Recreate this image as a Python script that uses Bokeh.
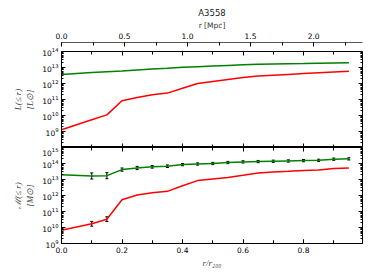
import numpy as np
from bokeh.plotting import figure
from bokeh.layouts import column
from bokeh.models import (Range1d, LinearAxis, LogAxis, FixedTicker, SingleIntervalTicker,
                          Whisker, TeeHead, ColumnDataSource, NumeralTickFormatter)
from bokeh.embed import file_html
from bokeh.resources import INLINE

# ---- data ----
r_over_r200 = [0.0, 0.1, 0.15, 0.2, 0.25, 0.3, 0.35, 0.4, 0.45, 0.5,
               0.55, 0.6, 0.65, 0.7, 0.75, 0.8, 0.85, 0.9, 0.95]
# log10 of cumulative luminosity [Lsun]
lum_total_log = [12.56, 12.68, 12.73, 12.78, 12.84, 12.90, 12.95, 13.01, 13.05, 13.09,
                 13.13, 13.17, 13.20, 13.22, 13.24, 13.25, 13.27, 13.28, 13.29]
lum_gal_log = [9.11, 9.73, 10.04, 10.92, 11.12, 11.29, 11.40, 11.70, 12.00, 12.13,
               12.25, 12.37, 12.47, 12.52, 12.57, 12.62, 12.67, 12.72, 12.77]
# log10 of cumulative mass [Msun]
mass_total_log = [13.30, 13.22, 13.24, 13.62, 13.72, 13.79, 13.83, 13.93, 13.97, 14.00,
                  14.06, 14.10, 14.12, 14.14, 14.16, 14.18, 14.20, 14.27, 14.29]
mass_gal_log = [9.83, 10.23, 10.52, 11.73, 12.03, 12.17, 12.26, 12.61, 12.93, 13.03,
                13.13, 13.26, 13.41, 13.47, 13.51, 13.57, 13.60, 13.68, 13.72]
# symmetric errors in dex (0 = no bar)
mass_total_err = [0.0, 0.19, 0.19, 0.10, 0.10, 0.08, 0.08, 0.07, 0.07, 0.07,
                  0.07, 0.07, 0.07, 0.07, 0.07, 0.07, 0.07, 0.07, 0.07]
mass_gal_err = [0.0, 0.15, 0.15, 0.0, 0.0, 0.0, 0.0, 0.0, 0.0, 0.0,
                0.0, 0.0, 0.0, 0.0, 0.0, 0.0, 0.0, 0.0, 0.0]
r200_mpc = 2.40
x_max = 0.995
title_text = "A3558"

W = 366
BL, BR = 61, 4
RED = "#ff0000"
GREEN = "#008000"
TICK_FONT = "7.5px"
MATH_FONT = "Liberation Serif"


def style_axis(ax, labels=True):
    ax.major_tick_in = 4
    ax.major_tick_out = 0
    ax.minor_tick_in = 2
    ax.minor_tick_out = 0
    ax.axis_line_color = "black"
    ax.major_tick_line_color = "black"
    ax.minor_tick_line_color = "black"
    ax.major_label_text_font = "DejaVu Sans"
    ax.major_label_text_font_size = TICK_FONT
    ax.major_label_text_color = "black"
    ax.major_label_standoff = 3
    if not labels:
        ax.major_label_text_font_size = "0px"
        ax.major_label_text_alpha = 0
        ax.major_label_standoff = 0


def tick_only_axes(p, ybottom, ytop):
    for loc, fl in (("below", ybottom), ("above", ytop)):
        ax = LinearAxis(ticker=SingleIntervalTicker(interval=0.2, num_minor_ticks=2),
                        fixed_location=fl)
        style_axis(ax, labels=False)
        ax.minor_tick_in = 3
        p.add_layout(ax, loc)
    axr = LogAxis(ticker=p.left[0].ticker, fixed_location=x_max)
    style_axis(axr, labels=False)
    p.add_layout(axr, "right")


def log_ticker(lo, hi, show_lo):
    majors = [10.0 ** e for e in range(lo if show_lo else lo + 1, hi + 1)]
    minors = [k * 10.0 ** e for e in range(lo, hi) for k in range(2, 10)]
    return FixedTicker(ticks=majors, minor_ticks=minors)


# ---- top strip holding the r [Mpc] axis and title ----
p0 = figure(width=W, height=47, x_range=Range1d(0, x_max * r200_mpc), y_range=Range1d(0, 1),
            output_backend="svg", toolbar_location=None, x_axis_location="above",
            y_axis_location=None, title=title_text,
            min_border_left=BL, min_border_right=BR, min_border_top=42, min_border_bottom=0)
p0.outline_line_color = None
p0.grid.visible = False
p0.title.align = "center"
p0.title.text_font = "DejaVu Sans"
p0.title.text_font_size = "8.5px"
p0.title.text_font_style = "normal"
p0.title.text_color = "#222222"
p0.title.offset = 0
p0.title.standoff = 0
ax0 = p0.xaxis[0]
ax0.ticker = SingleIntervalTicker(interval=0.5, num_minor_ticks=2)
ax0.formatter = NumeralTickFormatter(format="0.0")
style_axis(ax0)
ax0.major_label_standoff = 4
ax0.minor_tick_in = 3
ax0.axis_line_color = "#555555"
ax0.axis_label = "r [Mpc]"
ax0.axis_label_text_font = "DejaVu Sans"
ax0.axis_label_text_font_size = "7.5px"
ax0.axis_label_text_font_style = "normal"
ax0.axis_label_text_color = "#333333"
ax0.axis_label_standoff = 0

# ---- top panel: luminosity ----
p1 = figure(width=W, height=100, x_range=Range1d(0, x_max), y_range=Range1d(1e8, 1e14),
            y_axis_type="log", output_backend="svg", toolbar_location=None,
            x_axis_location=None, min_border_left=BL, min_border_right=BR,
            min_border_top=4, min_border_bottom=0)
p1.grid.visible = False
p1.outline_line_color = "black"
ay1 = p1.yaxis[0]
ay1.ticker = log_ticker(8, 14, False)
style_axis(ay1)
ay1.axis_label = "L(\u2264 r)\n[L\u2299]"
p1.line(r_over_r200, [10 ** v for v in lum_total_log], line_color=GREEN, line_width=1.5)
p1.line(r_over_r200, [10 ** v for v in lum_gal_log], line_color=RED, line_width=1.5)
tick_only_axes(p1, 1e8, 1e14)

# ---- bottom panel: mass ----
p2 = figure(width=W, height=126, x_range=p1.x_range, y_range=Range1d(1e9, 1e15),
            y_axis_type="log", output_backend="svg", toolbar_location=None,
            min_border_left=BL, min_border_right=BR, min_border_top=0, min_border_bottom=30)
p2.grid.visible = False
p2.outline_line_color = "black"
ay2 = p2.yaxis[0]
ay2.ticker = log_ticker(9, 15, True)
style_axis(ay2)
ay2.axis_label = "\u2133(\u2264 r)\n[M\u2299]"
ax2 = p2.xaxis[0]
ax2.ticker = SingleIntervalTicker(interval=0.2, num_minor_ticks=2)
ax2.formatter = NumeralTickFormatter(format="0.0")
style_axis(ax2)
ax2.minor_tick_in = 3
ax2.axis_label = "r/r\u2082\u2080\u2080"

for ax in (ay1, ay2, ax2):
    ax.axis_label_text_font = MATH_FONT
    ax.axis_label_text_font_style = "italic"
    ax.axis_label_text_font_size = "9px"
    ax.axis_label_text_color = "#444444"
    ax.axis_label_standoff = 4
ax2.axis_label_standoff = 2

p2.line(r_over_r200, [10 ** v for v in mass_total_log], line_color=GREEN, line_width=1.5)
p2.line(r_over_r200, [10 ** v for v in mass_gal_log], line_color=RED, line_width=1.5)

for vals, errs in ((mass_total_log, mass_total_err), (mass_gal_log, mass_gal_err)):
    xs = [x for x, e in zip(r_over_r200, errs) if e > 0]
    lo = [10 ** (v - e) for v, e in zip(vals, errs) if e > 0]
    hi = [10 ** (v + e) for v, e in zip(vals, errs) if e > 0]
    src = ColumnDataSource(data=dict(x=xs, lower=lo, upper=hi))
    w = Whisker(base="x", lower="lower", upper="upper", source=src, dimension="height",
                line_color="black", line_width=1,
                upper_head=TeeHead(size=3, line_color="black", line_width=1),
                lower_head=TeeHead(size=3, line_color="black", line_width=1))
    p2.add_layout(w)

tick_only_axes(p2, 1e9, 1e15)

layout = column(p0, p1, p2, spacing=0)
open("out.html", "w").write(file_html(layout, INLINE))
